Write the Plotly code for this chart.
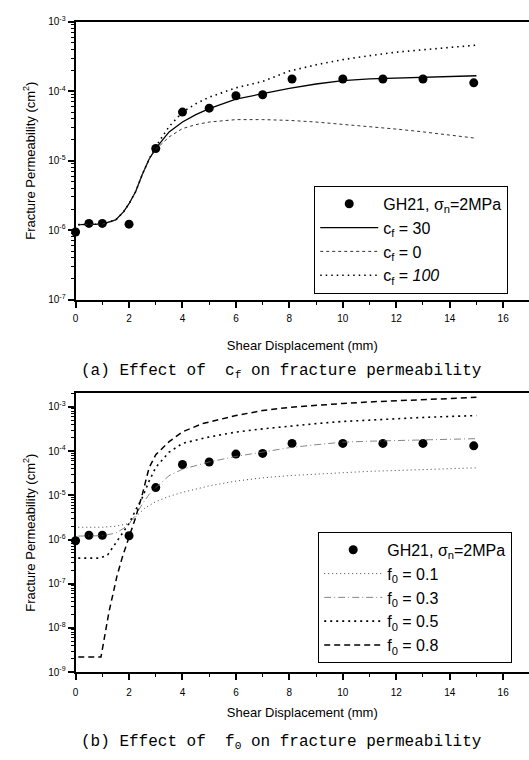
import plotly.graph_objects as go

# ---------------- data ----------------
exp_x = [0, 0.5, 1, 2, 3, 4, 5, 6, 7, 8.1, 10, 11.5, 13, 14.9]
exp_k = [9.4e-7, 1.25e-6, 1.25e-6, 1.22e-6, 1.5e-5, 5.0e-5, 5.7e-5, 8.6e-5, 8.9e-5,
         1.5e-4, 1.5e-4, 1.5e-4, 1.5e-4, 1.32e-4]

# (a) effect of c_f
cf_x = [0.1, 0.5, 1.0, 1.5, 1.8, 2.0, 2.25, 2.5, 2.75, 3.0, 3.5, 4.0, 4.5, 5.0,
        6.0, 7.0, 8.0, 9.0, 10.0, 11.0, 12.0, 13.0, 14.0, 15.0]
cf30_k = [1.2e-6, 1.2e-6, 1.22e-6, 1.4e-6, 1.85e-6, 2.4e-6, 3.6e-6, 6.4e-6, 1.05e-5,
          1.5e-5, 2.6e-5, 3.6e-5, 4.6e-5, 5.6e-5, 7.7e-5, 9.2e-5, 1.1e-4, 1.27e-4,
          1.42e-4, 1.5e-4, 1.55e-4, 1.58e-4, 1.63e-4, 1.67e-4]
cf0_k = [1.2e-6, 1.2e-6, 1.22e-6, 1.4e-6, 1.85e-6, 2.4e-6, 3.6e-6, 6.4e-6, 1.05e-5,
         1.45e-5, 2.2e-5, 2.9e-5, 3.3e-5, 3.6e-5, 3.9e-5, 3.9e-5, 3.8e-5, 3.6e-5,
         3.35e-5, 3.1e-5, 2.85e-5, 2.6e-5, 2.35e-5, 2.1e-5]
cf100_k = [1.2e-6, 1.2e-6, 1.22e-6, 1.4e-6, 1.85e-6, 2.4e-6, 3.6e-6, 6.4e-6, 1.05e-5,
           1.6e-5, 3.1e-5, 5.0e-5, 6.6e-5, 8.2e-5, 1.12e-4, 1.38e-4, 1.95e-4, 2.4e-4,
           2.85e-4, 3.25e-4, 3.65e-4, 3.95e-4, 4.3e-4, 4.6e-4]

# (b) effect of f_0
f01_x = [0.1, 1.0, 1.5, 2.0, 2.3, 2.6, 3.0, 3.5, 4.0, 5.0, 6.0, 7.0, 8.0, 9.0,
         10.0, 11.0, 12.0, 13.0, 14.0, 15.0]
f01_k = [1.9e-6, 1.9e-6, 2.0e-6, 2.3e-6, 3.5e-6, 5.2e-6, 7.2e-6, 9.5e-6, 1.17e-5,
         1.64e-5, 2.1e-5, 2.5e-5, 2.8e-5, 3.05e-5, 3.3e-5, 3.5e-5, 3.65e-5, 3.85e-5,
         4.0e-5, 4.2e-5]
f03_x = cf_x
f03_k = [1.2e-6, 1.2e-6, 1.22e-6, 1.4e-6, 1.8e-6, 2.3e-6, 3.6e-6, 6.4e-6, 1.05e-5,
         1.5e-5, 2.8e-5, 3.9e-5, 4.8e-5, 5.7e-5, 7.6e-5, 9.6e-5, 1.2e-4, 1.4e-4,
         1.6e-4, 1.68e-4, 1.73e-4, 1.78e-4, 1.85e-4, 1.92e-4]
f05_x = [0.1, 0.9, 1.2, 1.5, 1.75, 2.0, 2.25, 2.5, 2.75, 3.0, 3.5, 4.0, 5.0, 6.0,
         7.0, 8.0, 9.0, 10.0, 11.0, 12.0, 13.0, 14.0, 15.0]
f05_k = [3.8e-7, 3.8e-7, 4.5e-7, 8.3e-7, 1.4e-6, 2.3e-6, 4.7e-6, 9.0e-6, 2.1e-5,
         4.3e-5, 9.5e-5, 1.5e-4, 2.1e-4, 2.7e-4, 3.2e-4, 3.7e-4, 4.2e-4, 4.7e-4,
         5.1e-4, 5.5e-4, 5.8e-4, 6.1e-4, 6.4e-4]
f08_x = [0.1, 0.95, 1.25, 1.55, 1.75, 2.0, 2.25, 2.5, 2.75, 3.0, 3.5, 4.0, 4.75,
         6.0, 7.0, 8.0, 9.0, 10.0, 11.0, 12.0, 13.0, 14.0, 15.0]
f08_k = [2.2e-9, 2.2e-9, 2.3e-8, 1.5e-7, 4.0e-7, 1.17e-6, 3.2e-6, 1.07e-5, 4.2e-5,
         8.3e-5, 1.64e-4, 2.75e-4, 4.2e-4, 6.4e-4, 8.3e-4, 9.8e-4, 1.1e-3, 1.2e-3,
         1.3e-3, 1.38e-3, 1.45e-3, 1.55e-3, 1.65e-3]

x_ticks = [0, 2, 4, 6, 8, 10, 12, 14, 16]
x_minor = [1, 3, 5, 7, 9, 11, 13, 15]
top_exps = [-7, -6, -5, -4, -3]
bot_exps = [-9, -8, -7, -6, -5, -4, -3]

# ---------------- figure ----------------
W, H = 529, 760
SANS = "Liberation Sans, Arial, sans-serif"
CAPTION_FONT = "Liberation Mono, DejaVu Sans Mono, monospace"
fig = go.Figure()

def add_line(x, y, name, dash, width, color, xa, ya, leg):
    fig.add_trace(go.Scatter(x=x, y=y, mode="lines", name=name,
                             line=dict(color=color, width=width, dash=dash),
                             xaxis=xa, yaxis=ya, legend=leg))

def add_exp(xa, ya, leg):
    fig.add_trace(go.Scatter(x=exp_x, y=exp_k, mode="markers",
                             name="GH21, σ<sub>n</sub>=2MPa",
                             marker=dict(color="black", size=9),
                             cliponaxis=False, xaxis=xa, yaxis=ya, legend=leg))

add_exp("x", "y", "legend")
add_line(cf_x, cf30_k, "c<sub>f</sub> = 30", "solid", 1.3, "black", "x", "y", "legend")
add_line(cf_x, cf0_k, "c<sub>f</sub> = 0", "3px,3px", 1.0, "#333", "x", "y", "legend")
add_line(cf_x, cf100_k, "c<sub>f</sub> = <i>100</i>", "1.5px,4px", 1.6, "black", "x", "y", "legend")

add_exp("x2", "y2", "legend2")
add_line(f01_x, f01_k, "f<sub>0</sub> = 0.1", "1px,3px", 1.0, "#444", "x2", "y2", "legend2")
add_line(f03_x, f03_k, "f<sub>0</sub> = 0.3", "7px,3px,1px,3px", 0.8, "#666", "x2", "y2", "legend2")
add_line(f05_x, f05_k, "f<sub>0</sub> = 0.5", "2px,4px", 1.6, "black", "x2", "y2", "legend2")
add_line(f08_x, f08_k, "f<sub>0</sub> = 0.8", "6px,4px", 1.5, "black", "x2", "y2", "legend2")

def px_dom(top_px, bot_px):
    return [1 - bot_px / H, 1 - top_px / H]

xdom = [73 / W, 1.0]
xrange_ = [0, (W - 73) / 26.875]

def xaxis_cfg(anchor, standoff, lblstand):
    return dict(domain=xdom, range=xrange_, anchor=anchor, showline=True,
                linewidth=2, linecolor="black", mirror=True, ticks="outside",
                ticklen=6, tickwidth=1.5, tickcolor="black", tickvals=x_ticks,
                ticktext=[str(v) for v in x_ticks], ticklabelstandoff=lblstand,
                minor=dict(tickvals=x_minor, ticks="outside", ticklen=3,
                           tickwidth=1.2, tickcolor="black"),
                tickfont=dict(family=SANS, size=10, color="black"),
                showgrid=False, zeroline=False,
                title=dict(text="Shear Displacement (mm)", standoff=standoff,
                           font=dict(family=SANS, size=13, color="black")))

def yaxis_cfg(anchor, dom, exps, top):
    minor_vals = [m * 10.0 ** e for e in exps[:-1] for m in range(2, 10)]
    if top > exps[-1]:
        minor_vals += [m * 10.0 ** exps[-1] for m in range(2, 10)
                       if m * 10.0 ** exps[-1] <= 10 ** top]
    return dict(domain=dom, type="log", range=[exps[0], top], anchor=anchor,
                showline=True, linewidth=2, linecolor="black", mirror=False,
                ticks="outside", ticklen=6, tickwidth=1.5, tickcolor="black",
                tickvals=[10.0 ** e for e in exps],
                ticktext=["10<sup>%d</sup>" % e for e in exps],
                minor=dict(tickvals=minor_vals, ticks="outside", ticklen=3,
                           tickwidth=1, tickcolor="black"),
                tickfont=dict(family=SANS, size=10, color="black"),
                showgrid=False, zeroline=False,
                title=dict(text="Fracture Permeability (cm<sup>2</sup>)", standoff=10,
                           font=dict(family=SANS, size=13, color="black")))

legend_common = dict(bgcolor="white", bordercolor="black", borderwidth=1,
                     font=dict(family=SANS, size=16, color="black"),
                     itemwidth=58, xanchor="left", yanchor="top",
                     tracegroupgap=0)

fig.update_layout(
    width=W, height=H, margin=dict(l=0, r=0, t=0, b=0),
    paper_bgcolor="white", plot_bgcolor="white",
    xaxis=xaxis_cfg("y", 18, 2),
    yaxis=yaxis_cfg("x", px_dom(15, 297.7), top_exps, -3),
    xaxis2=xaxis_cfg("y2", 11, 4),
    yaxis2=yaxis_cfg("x2", px_dom(393, 676.7), bot_exps, -2.69),
    legend=dict(x=313 / W, y=1 - 182 / H, **legend_common),
    legend2=dict(x=317 / W, y=1 - 534 / H, **legend_common),
    annotations=[
        dict(text="(a) Effect of \u00a0c<sub>f</sub> on fracture permeability",
             x=280 / W, y=1 - 371 / H, xref="paper", yref="paper",
             xanchor="center", yanchor="middle", showarrow=False,
             font=dict(family=CAPTION_FONT, size=16, color="black")),
        dict(text="(b) Effect of \u00a0f<sub>0</sub> on fracture permeability",
             x=280 / W, y=1 - 748 / H, xref="paper", yref="paper",
             xanchor="center", yanchor="middle", showarrow=False,
             font=dict(family=CAPTION_FONT, size=16, color="black")),
    ],
)

fig.write_html("out.html")
